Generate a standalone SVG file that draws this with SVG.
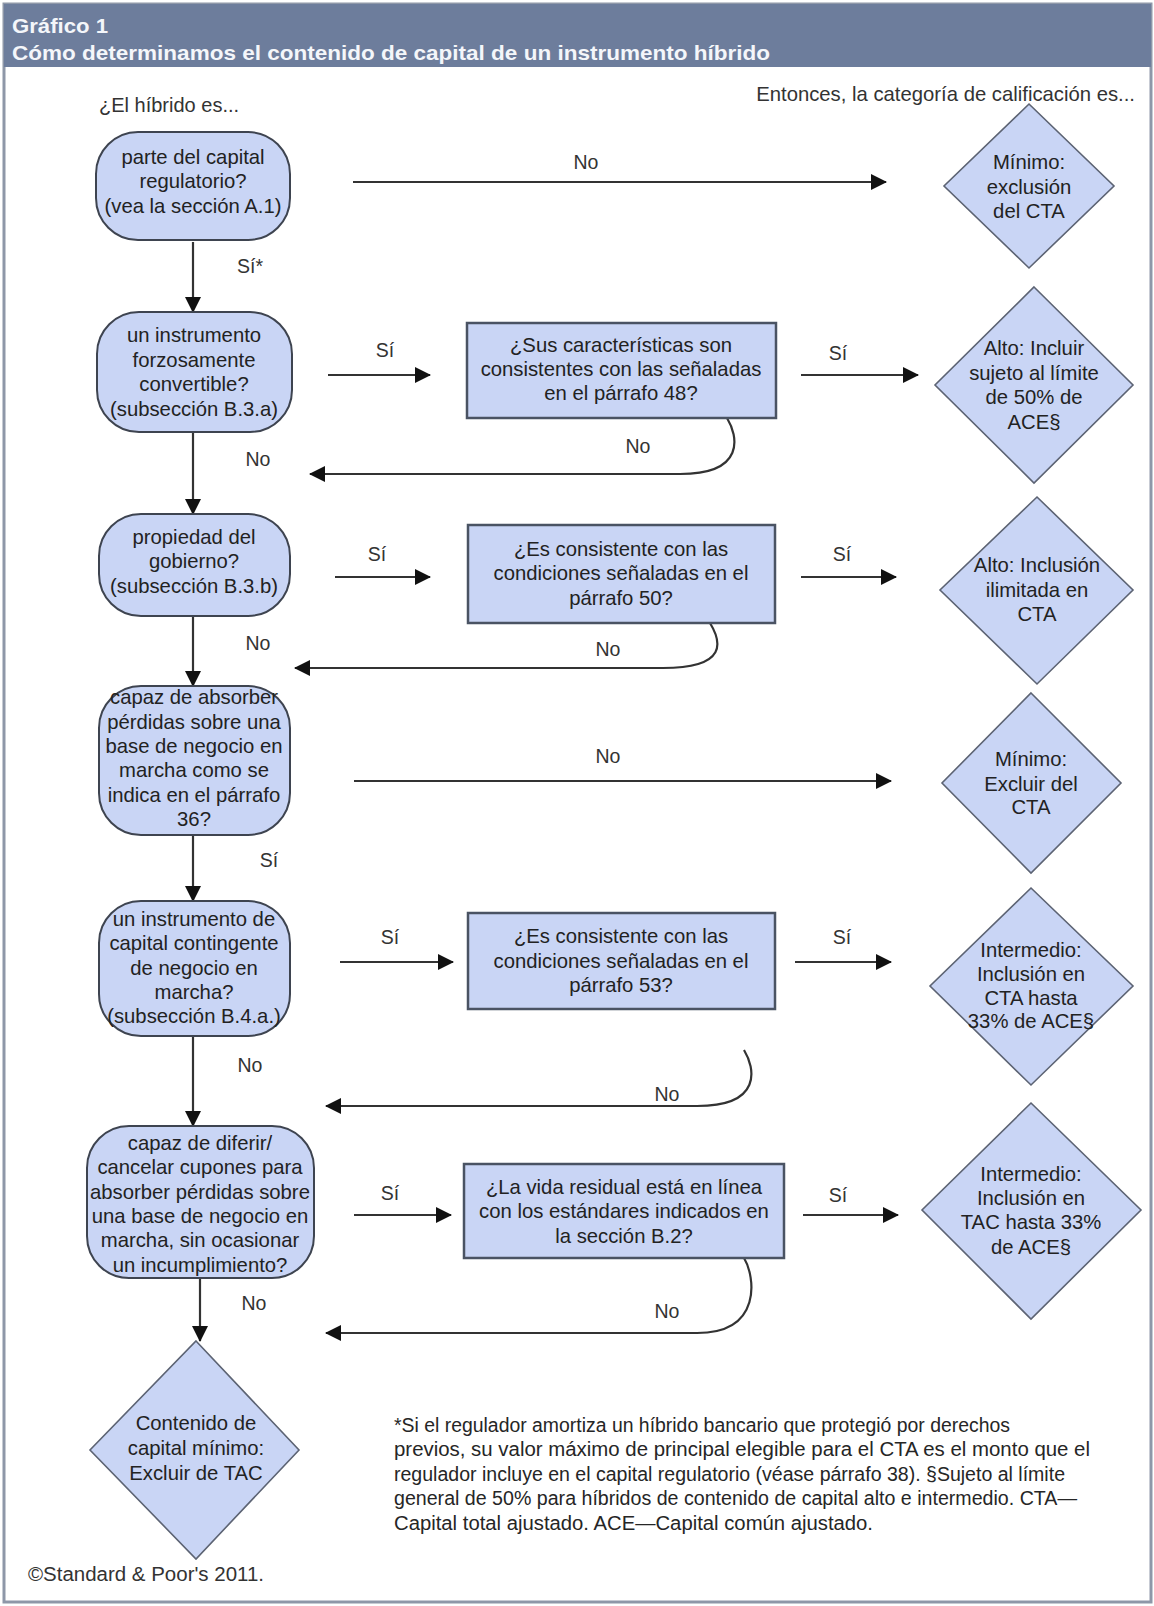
<svg xmlns="http://www.w3.org/2000/svg" width="1154" height="1606" viewBox="0 0 1154 1606">
<defs>
<marker id="ah" markerUnits="userSpaceOnUse" markerWidth="16" markerHeight="16" refX="15" refY="8" orient="auto">
<path d="M0,0 L16,8 L0,16 z" fill="#111"/>
</marker>
<style>
text{font-family:"Liberation Sans",Arial,sans-serif;}
.t{font-size:20.3px;fill:#222;text-anchor:middle;}
.l{font-size:19.5px;fill:#333;text-anchor:middle;}
.rn{fill:#c9d5f5;stroke:#3e4450;stroke-width:2;}
.rc{fill:#c9d5f5;stroke:#4a5363;stroke-width:2.5;}
.dm{fill:#c9d5f5;stroke:#5c6373;stroke-width:1.6;}
.ca{fill:none;stroke:#333;stroke-width:2.2;marker-end:url(#ah);}
.fn{font-size:19.5px;fill:#262626;}
.hd{font-size:21px;font-weight:bold;fill:#f4f6fa;}
</style>
</defs>
<rect x="0" y="0" width="1154" height="1606" fill="#ffffff"/>
<rect x="4" y="4" width="1147" height="1598" fill="#ffffff" stroke="#8e97a8" stroke-width="3"/>
<rect x="4" y="4" width="1147" height="63" fill="#6d7d9c"/>
<text class="hd" x="12" y="33" textLength="96" lengthAdjust="spacingAndGlyphs">Gráfico 1</text>
<text class="hd" x="12" y="60" textLength="758" lengthAdjust="spacingAndGlyphs">Cómo determinamos el contenido de capital de un instrumento híbrido</text>
<text x="99" y="112" style="font-size:20px;fill:#333;">¿El híbrido es...</text>
<text x="1135" y="101" style="font-size:20.3px;fill:#333;text-anchor:end;">Entonces, la categoría de calificación es...</text>

<g id="connectors">
<path class="ca" d="M193,242 L193,312"/>
<path class="ca" d="M193,432 L193,514"/>
<path class="ca" d="M193,616 L193,686"/>
<path class="ca" d="M193,835 L193,901"/>
<path class="ca" d="M193,1036 L193,1126"/>
<path class="ca" d="M200,1278 L200,1341"/>
<path class="ca" d="M353,182 L886,182"/>
<path class="ca" d="M328,375 L430,375"/>
<path class="ca" d="M801,375 L918,375"/>
<path class="ca" d="M727,418 C738,436 746,474 680,474 L310,474"/>
<path class="ca" d="M335,577 L430,577"/>
<path class="ca" d="M801,577 L896,577"/>
<path class="ca" d="M710,623 C721,641 729,668 663,668 L295,668"/>
<path class="ca" d="M354,781 L891,781"/>
<path class="ca" d="M340,962 L453,962"/>
<path class="ca" d="M795,962 L891,962"/>
<path class="ca" d="M744,1050 C755,1068 763,1106 697,1106 L326,1106"/>
<path class="ca" d="M354,1215 L451,1215"/>
<path class="ca" d="M803,1215 L898,1215"/>
<path class="ca" d="M744,1258 C755,1276 763,1333 697,1333 L326,1333"/>
<text class="l" x="250" y="273">Sí*</text>
<text class="l" x="258" y="466">No</text>
<text class="l" x="258" y="650">No</text>
<text class="l" x="269" y="867">Sí</text>
<text class="l" x="250" y="1072">No</text>
<text class="l" x="254" y="1310">No</text>
<text class="l" x="586" y="169">No</text>
<text class="l" x="385" y="357">Sí</text>
<text class="l" x="838" y="360">Sí</text>
<text class="l" x="638" y="453">No</text>
<text class="l" x="377" y="561">Sí</text>
<text class="l" x="842" y="561">Sí</text>
<text class="l" x="608" y="656">No</text>
<text class="l" x="608" y="763">No</text>
<text class="l" x="390" y="944">Sí</text>
<text class="l" x="842" y="944">Sí</text>
<text class="l" x="667" y="1101">No</text>
<text class="l" x="390" y="1200">Sí</text>
<text class="l" x="838" y="1202">Sí</text>
<text class="l" x="667" y="1318">No</text>
</g>

<g id="n1">
<rect class="rn" x="96" y="132" width="194" height="108" rx="42"/>
<text class="t" x="193" y="164">parte del capital</text>
<text class="t" x="193" y="188">regulatorio?</text>
<text class="t" x="193" y="213">(vea la sección A.1)</text>
</g>
<g id="n2">
<rect class="rn" x="97" y="312" width="195" height="120" rx="42"/>
<text class="t" x="194" y="342">un instrumento</text>
<text class="t" x="194" y="367">forzosamente</text>
<text class="t" x="194" y="391">convertible?</text>
<text class="t" x="194" y="416">(subsección B.3.a)</text>
</g>
<g id="n3">
<rect class="rn" x="99" y="514" width="191" height="102" rx="42"/>
<text class="t" x="194" y="544">propiedad del</text>
<text class="t" x="194" y="568">gobierno?</text>
<text class="t" x="194" y="593">(subsección B.3.b)</text>
</g>
<g id="n4">
<rect class="rn" x="99" y="686" width="191" height="149" rx="42"/>
<text class="t" x="194" y="704">capaz de absorber</text>
<text class="t" x="194" y="729">pérdidas sobre una</text>
<text class="t" x="194" y="753">base de negocio en</text>
<text class="t" x="194" y="777">marcha como se</text>
<text class="t" x="194" y="802">indica en el párrafo</text>
<text class="t" x="194" y="826">36?</text>
</g>
<g id="n5">
<rect class="rn" x="99" y="901" width="191" height="135" rx="42"/>
<text class="t" x="194" y="926">un instrumento de</text>
<text class="t" x="194" y="950">capital contingente</text>
<text class="t" x="194" y="975">de negocio en</text>
<text class="t" x="194" y="999">marcha?</text>
<text class="t" x="194" y="1023">(subsección B.4.a.)</text>
</g>
<g id="n6">
<rect class="rn" x="87" y="1126" width="227" height="152" rx="42"/>
<text class="t" x="200" y="1150">capaz de diferir/</text>
<text class="t" x="200" y="1174">cancelar cupones para</text>
<text class="t" x="200" y="1199">absorber pérdidas sobre</text>
<text class="t" x="200" y="1223">una base de negocio en</text>
<text class="t" x="200" y="1247">marcha, sin ocasionar</text>
<text class="t" x="200" y="1272">un incumplimiento?</text>
</g>
<g id="d7">
<polygon class="dm" points="196,1341 299,1450 196,1559 90,1450"/>
<text class="t" x="196" y="1430">Contenido de</text>
<text class="t" x="196" y="1455">capital mínimo:</text>
<text class="t" x="196" y="1480">Excluir de TAC</text>
</g>

<g id="r1">
<rect class="rc" x="467" y="323" width="309" height="95"/>
<text class="t" x="621" y="352">¿Sus características son</text>
<text class="t" x="621" y="376">consistentes con las señaladas</text>
<text class="t" x="621" y="400">en el párrafo 48?</text>
</g>
<g id="r2">
<rect class="rc" x="468" y="525" width="307" height="98"/>
<text class="t" x="621" y="556">¿Es consistente con las</text>
<text class="t" x="621" y="580">condiciones señaladas en el</text>
<text class="t" x="621" y="605">párrafo 50?</text>
</g>
<g id="r3">
<rect class="rc" x="468" y="913" width="307" height="96"/>
<text class="t" x="621" y="943">¿Es consistente con las</text>
<text class="t" x="621" y="968">condiciones señaladas en el</text>
<text class="t" x="621" y="992">párrafo 53?</text>
</g>
<g id="r4">
<rect class="rc" x="464" y="1164" width="320" height="94"/>
<text class="t" x="624" y="1194">¿La vida residual está en línea</text>
<text class="t" x="624" y="1218">con los estándares indicados en</text>
<text class="t" x="624" y="1243">la sección B.2?</text>
</g>

<g id="d1">
<polygon class="dm" points="1029,104 1114,186 1029,268 944,186"/>
<text class="t" x="1029" y="169">Mínimo:</text>
<text class="t" x="1029" y="194">exclusión</text>
<text class="t" x="1029" y="218">del CTA</text>
</g>
<g id="d2">
<polygon class="dm" points="1034,287 1133,385 1034,483 935,385"/>
<text class="t" x="1034" y="355">Alto: Incluir</text>
<text class="t" x="1034" y="380">sujeto al límite</text>
<text class="t" x="1034" y="404">de 50% de</text>
<text class="t" x="1034" y="429">ACE§</text>
</g>
<g id="d3">
<polygon class="dm" points="1037,497 1133,590 1037,684 940,590"/>
<text class="t" x="1037" y="572">Alto: Inclusión</text>
<text class="t" x="1037" y="597">ilimitada en</text>
<text class="t" x="1037" y="621">CTA</text>
</g>
<g id="d4">
<polygon class="dm" points="1031,693 1121,783 1031,873 942,783"/>
<text class="t" x="1031" y="766">Mínimo:</text>
<text class="t" x="1031" y="791">Excluir del</text>
<text class="t" x="1031" y="814">CTA</text>
</g>
<g id="d5">
<polygon class="dm" points="1031,888 1133,986 1031,1085 930,986"/>
<text class="t" x="1031" y="957">Intermedio:</text>
<text class="t" x="1031" y="981">Inclusión en</text>
<text class="t" x="1031" y="1005">CTA hasta</text>
<text class="t" x="1031" y="1028">33% de ACE§</text>
</g>
<g id="d6">
<polygon class="dm" points="1031,1103 1141,1210 1031,1319 922,1210"/>
<text class="t" x="1031" y="1181">Intermedio:</text>
<text class="t" x="1031" y="1205">Inclusión en</text>
<text class="t" x="1031" y="1229">TAC hasta 33%</text>
<text class="t" x="1031" y="1254">de ACE§</text>
</g>

<g id="footnote">
<text class="fn" x="394" y="1432" textLength="616" lengthAdjust="spacingAndGlyphs">*Si el regulador amortiza un híbrido bancario que protegió por derechos</text>
<text class="fn" x="394" y="1456" textLength="696" lengthAdjust="spacingAndGlyphs">previos, su valor máximo de principal elegible para el CTA es el monto que el</text>
<text class="fn" x="394" y="1481" textLength="671" lengthAdjust="spacingAndGlyphs">regulador incluye en el capital regulatorio (véase párrafo 38). §Sujeto al límite</text>
<text class="fn" x="394" y="1505" textLength="683" lengthAdjust="spacingAndGlyphs">general de 50% para híbridos de contenido de capital alto e intermedio. CTA—</text>
<text class="fn" x="394" y="1530" textLength="479" lengthAdjust="spacingAndGlyphs">Capital total ajustado. ACE—Capital común ajustado.</text>
</g>
<text x="28" y="1581" style="font-size:20px;fill:#333;" textLength="236" lengthAdjust="spacingAndGlyphs">©Standard &amp; Poor's 2011.</text>
</svg>
